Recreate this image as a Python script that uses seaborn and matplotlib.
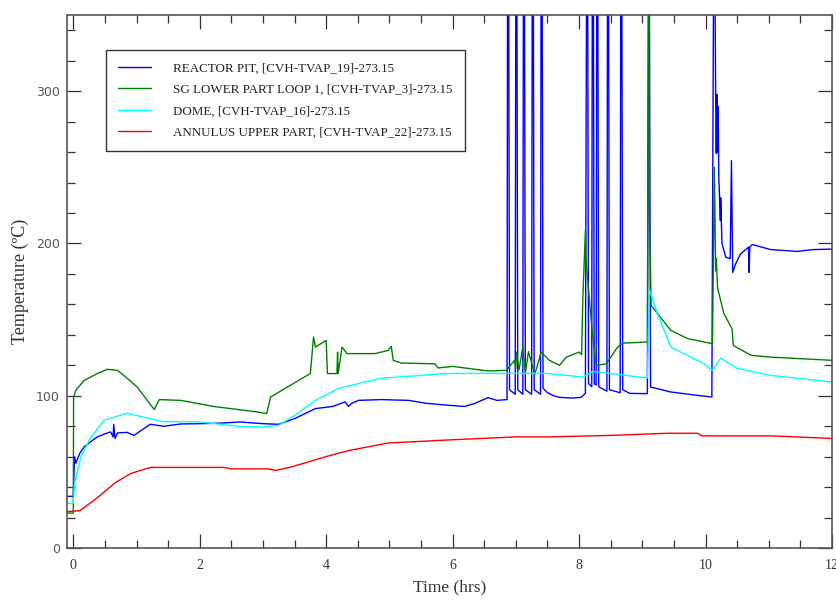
import matplotlib
matplotlib.use("Agg")
import matplotlib.pyplot as plt
import seaborn as sns
from matplotlib.ticker import MultipleLocator

# REACTOR PIT, hrs / degC
blue_t = [-0.1, 0.0, 0.02, 0.04, 0.1, 0.17, 0.28, 0.38, 0.5, 0.59,
          0.63, 0.64, 0.66, 0.7, 0.85, 0.96, 1.1, 1.22, 1.43, 1.7,
          2.0, 2.3, 2.64, 3.0, 3.25, 3.5, 3.83, 4.1, 4.3, 4.35,
          4.4, 4.51, 4.87, 5.3, 5.6, 5.93, 6.19, 6.35, 6.56, 6.7, 6.86,
          6.87, 6.885, 6.9, 6.99,
          7.0, 7.015, 7.03, 7.11,
          7.12, 7.135, 7.15, 7.25,
          7.26, 7.275, 7.29, 7.39,
          7.40, 7.415, 7.43, 7.5, 7.6, 7.69, 7.9, 8.03, 8.1,
          8.12, 8.135, 8.15, 8.2,
          8.21, 8.225, 8.24, 8.27,
          8.28, 8.295, 8.31, 8.44,
          8.45, 8.465, 8.48, 8.65,
          8.66, 8.675, 8.69, 8.8, 9.08,
          9.10, 9.11, 9.13, 9.45, 9.87, 10.1,
          10.13, 10.145, 10.16, 10.17, 10.18, 10.19, 10.2, 10.21, 10.235, 10.24,
          10.26, 10.32, 10.39, 10.41, 10.43, 10.47, 10.55, 10.68, 10.69, 10.7,
          10.74, 11.03, 11.45, 11.7, 12.0]
blue_v = [34, 34, 60, 55.7, 62, 66.4, 70, 73, 75, 76.3,
          73, 81.3, 72, 75.6, 76, 74, 78, 81.3, 80, 81.5,
          81.7, 82, 82.8, 81.7, 81.3, 85, 91.6, 93, 96, 93,
          95, 97, 97.5, 97, 95, 93.8, 93, 95, 98.8, 97, 97.5,
          400, 400, 104, 101,
          400, 400, 104, 101,
          400, 400, 104, 101,
          400, 400, 104, 101,
          400, 400, 105, 102, 100, 99, 98.5, 99, 101.6,
          400, 400, 108, 106,
          400, 400, 108, 107,
          400, 400, 106, 103,
          400, 400, 104, 102,
          400, 400, 104, 101.6, 101.4,
          400, 400, 105.8, 102.5, 100.3, 99.2,
          400, 400, 298, 259, 298, 260, 290, 243.5, 215, 230,
          200, 191, 190, 254.4, 181, 186, 193, 197.6, 181, 197.6,
          199.3, 196, 194.8, 196, 196.3]

# SG LOWER PART LOOP 1
green_t = [-0.1, 0.0, 0.005, 0.04, 0.17, 0.38, 0.54, 0.7, 0.83, 1.01,
           1.17, 1.28, 1.36, 1.7, 2.22, 2.91, 3.06, 3.12, 3.3, 3.56,
           3.75, 3.8, 3.83, 4.0, 4.02, 4.17, 4.18, 4.19, 4.25, 4.33,
           4.77, 4.98, 5.03, 5.06, 5.19, 5.72, 5.77, 6.0, 6.56, 6.85,
           6.98, 7.0, 7.01, 7.05, 7.11, 7.15, 7.2, 7.3, 7.4, 7.53,
           7.69, 7.8, 8.0, 8.04, 8.06, 8.1, 8.11, 8.16, 8.21, 8.27,
           8.43, 8.61, 8.69, 9.08, 9.10, 9.105, 9.11, 9.14, 9.45, 9.72,
           10.11, 10.14, 10.16, 10.17, 10.19, 10.29, 10.42, 10.44, 10.72, 11.03,
           12.0]
green_v = [23, 23, 99, 103.6, 110, 114.6, 117.4, 116.7, 112.3, 105.8,
           97, 91, 97.5, 97, 93, 89.4, 88.3, 99.2, 103.6, 110,
           114.6, 138.6, 132, 136.4, 114.6, 114.6, 128.7, 114.6, 132, 127.7,
           127.7, 129.8, 132.5, 123.3, 121.5, 121, 118.3, 119.3, 116.3, 116.7,
           123.3, 118, 128.7, 117, 132, 115, 129, 114, 128.7, 123.3,
           120, 125.4, 128.7, 127, 164.8, 208.5, 189, 164.8, 141, 120,
           121, 132, 134.6, 135.3, 400, 400, 224, 159.3, 143, 137.5,
           134.2, 250, 182, 190, 171, 154, 144, 133, 126.6, 125.4,
           123.3]

# DOME
cyan_t = [-0.1, 0.0, 0.02, 0.12, 0.28, 0.49, 0.85, 1.22, 1.43, 1.96,
          2.59, 3.0, 3.25, 3.5, 3.83, 4.2, 4.87, 5.93, 7.5, 8.06,
          8.22, 9.08, 9.11, 9.24, 9.45, 9.98, 10.11, 10.24, 10.5, 11.03,
          12.0]
cyan_v = [29.5, 29.5, 42, 60, 73, 84, 88.5, 85, 83, 83,
          80, 79.5, 80.6, 87, 97, 105, 111.5, 114.7, 114.7, 112.3,
          116, 111.7, 170, 154, 132, 121, 116.7, 124.8, 118, 113.4,
          109]

# ANNULUS UPPER PART
red_t = [-0.1, 0.1, 0.38, 0.65, 0.91, 1.22, 2.38, 2.5, 3.09, 3.2,
         3.45, 3.99, 4.35, 4.98, 5.93, 6.99, 7.5, 8.5, 9.4, 9.87,
         9.95, 11.03, 12.0]
red_v = [24, 24.5, 33, 42.6, 49, 53, 53, 52, 52, 51,
         53.3, 60, 64, 69, 71, 73, 73, 74, 75.4, 75.4,
         73.7, 73.7, 72]

labels = ['REACTOR PIT, [CVH-TVAP_19]-273.15',
          'SG LOWER PART LOOP 1, [CVH-TVAP_3]-273.15',
          'DOME, [CVH-TVAP_16]-273.15',
          'ANNULUS UPPER PART, [CVH-TVAP_22]-273.15']
colors = ['#0000ff', '#008000', '#00ffff', '#ff0000']

sns.set_style("ticks")
plt.rcParams['font.family'] = ['Liberation Serif', 'DejaVu Serif']

fig = plt.figure(figsize=(8.37, 6.01), dpi=100)
ax = fig.add_axes([0.080, 0.088, 0.914, 0.887])

series = [(blue_t, blue_v), (green_t, green_v), (cyan_t, cyan_v), (red_t, red_v)]
for (t, v), lab, col in zip(series, labels, colors):
    sns.lineplot(x=t, y=v, ax=ax, sort=False, estimator=None,
                 color=col, linewidth=1.0, label=lab)

ax.set_xlim(-0.1, 12)
ax.set_ylim(0, 350)
ax.xaxis.set_major_locator(MultipleLocator(2))
ax.xaxis.set_minor_locator(MultipleLocator(0.5))
ax.yaxis.set_major_locator(MultipleLocator(100))
ax.yaxis.set_minor_locator(MultipleLocator(20))
ax.tick_params(which='both', direction='in', top=True, right=True, color='#333333')
ax.tick_params(which='major', length=10, width=0.9)
ax.tick_params(which='minor', length=5.5, width=0.9)
ax.tick_params(axis='x', pad=8, labelsize=10, labelcolor='#333333')
ax.tick_params(axis='y', pad=5, labelsize=9, labelcolor='#555555')
for lab in ax.get_yticklabels():
    lab.set_fontfamily('DejaVu Sans')
for sp in ax.spines.values():
    sp.set_color('#555555')
    sp.set_linewidth(1.2)

ax.set_xlabel('Time (hrs)', fontsize=12.5, color='#333333', labelpad=5)
ax.set_ylabel('Temperature (ºC)', fontsize=13, color='#333333', labelpad=5)

leg = ax.legend(loc='upper left', bbox_to_anchor=(0.051, 0.934), frameon=True,
                fancybox=False, edgecolor='black', fontsize=9.4, handlelength=2.5,
                handletextpad=1.7, labelspacing=0.7, borderpad=0.95, borderaxespad=0)
leg.get_frame().set_linewidth(1.0)
for txt in leg.get_texts():
    txt.set_color('#222222')

fig.savefig('out.png', dpi=100)
